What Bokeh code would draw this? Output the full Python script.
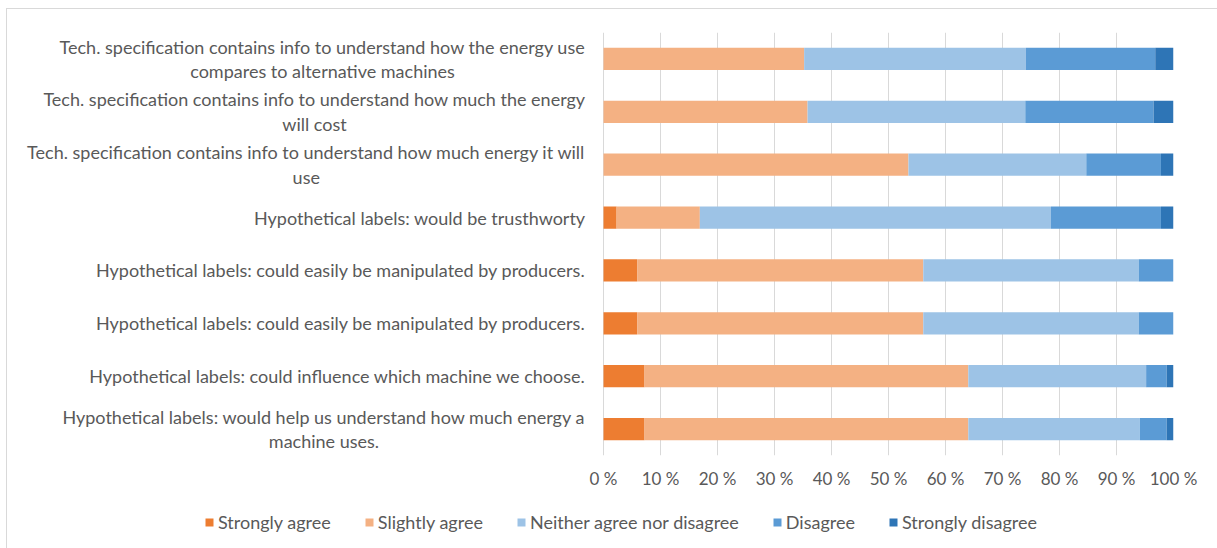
from bokeh.plotting import figure
from bokeh.layouts import column
from bokeh.models import Range1d, FixedTicker, ColumnDataSource, Legend, LegendItem
from bokeh.core.properties import value
from bokeh.embed import file_html
from bokeh.resources import INLINE

categories = [
    "Tech. specification contains info to understand how the energy use\ncompares to alternative machines",
    "Tech. specification contains info to understand how much the energy\nwill cost",
    "Tech. specification contains info to understand how much energy it will\nuse",
    "Hypothetical labels: would be trusthworty",
    "Hypothetical labels: could easily be manipulated by producers.",
    "Hypothetical labels: could easily be manipulated by producers.",
    "Hypothetical labels: could influence which machine we choose.",
    "Hypothetical labels: would help us understand how much energy a\nmachine uses.",
]
series_names = ["Strongly agree", "Slightly agree", "Neither agree nor disagree",
                "Disagree", "Strongly disagree"]
strongly_agree = [0, 0, 0, 2.3, 5.9, 5.9, 7.2, 7.2]
slightly_agree = [35.2, 35.8, 53.5, 14.6, 50.2, 50.2, 56.8, 56.8]
neither = [38.9, 38.2, 31.2, 61.6, 37.8, 37.8, 31.2, 30.1]
disagree = [22.7, 22.5, 13.1, 19.3, 6.1, 6.1, 3.6, 4.7]
strongly_disagree = [3.2, 3.5, 2.2, 2.2, 0, 0, 1.2, 1.2]
tick_values = [0, 10, 20, 30, 40, 50, 60, 70, 80, 90, 100]
tick_labels = ["0 %", "10 %", "20 %", "30 %", "40 %", "50 %", "60 %", "70 %", "80 %", "90 %", "100 %"]

colors = ["#ED7D31", "#F4B183", "#9DC3E6", "#5B9BD5", "#2E75B6"]
TEXT = "#595959"
FONT = "Lato"

ypos = list(range(len(categories)))
source = ColumnDataSource(data={
    "y": ypos,
    "label": categories,
    series_names[0]: strongly_agree,
    series_names[1]: slightly_agree,
    series_names[2]: neither,
    series_names[3]: disagree,
    series_names[4]: strongly_disagree,
})

# ---- main chart ----
p = figure(width=1210, height=486, output_backend="svg", toolbar_location=None,
           x_range=Range1d(-104.39, 100), y_range=Range1d(len(categories) - 0.5, -0.5),
           y_axis_location=None, min_border_left=1, min_border_right=44,
           min_border_top=23, min_border_bottom=40)
p.outline_line_color = None

p.hbar_stack(series_names, y="y", height=0.42, source=source, color=colors,
             line_color=None)

p.text(x=0, y="y", text="label", source=source, x_offset=-18,
       anchor=value("center_right"), text_align="center", text_baseline="middle",
       text_font=value(FONT), text_font_size="18px", text_color=TEXT,
       text_line_height=1.12)

ax = p.xaxis[0]
ax.ticker = FixedTicker(ticks=tick_values)
ax.major_label_overrides = dict(zip(tick_values, tick_labels))
ax.axis_line_color = None
ax.major_tick_line_color = None
ax.major_tick_out = 0
ax.major_tick_in = 0
ax.minor_tick_line_color = None
ax.major_label_standoff = 12
ax.major_label_text_font = FONT
ax.major_label_text_font_size = "17px"
ax.major_label_text_color = TEXT

p.xgrid.ticker = FixedTicker(ticks=tick_values)
p.xgrid.grid_line_color = "#d9d9d9"
p.ygrid.grid_line_color = None

# ---- legend strip (same stacks, kept outside its visible range) ----
p2 = figure(width=1210, height=53, output_backend="svg", toolbar_location=None,
            x_range=Range1d(0, 1), y_range=Range1d(100, 101),
            x_axis_location=None, y_axis_location=None,
            min_border_left=0, min_border_right=0, min_border_top=0, min_border_bottom=0)
p2.outline_line_color = None
p2.grid.visible = False

swatches = p2.hbar_stack(series_names, y="y", height=0.42, source=source, color=colors,
                         line_color=None)

lg = Legend(items=[LegendItem(label=n, renderers=[r]) for n, r in zip(series_names, swatches)])
lg.location = (196, 15)
lg.orientation = "horizontal"
lg.glyph_width = 10
lg.glyph_height = 10
lg.label_height = 20
lg.label_standoff = 4
lg.spacing = 33
lg.padding = 0
lg.margin = 0
lg.border_line_color = None
lg.background_fill_alpha = 0
lg.label_text_font = FONT
lg.label_text_font_size = "18px"
lg.label_text_color = TEXT
p2.add_layout(lg)

layout = column(p, p2, spacing=0)
layout.styles = {"margin-left": "6px", "margin-top": "8px",
                 "border-top": "1px solid #d9d9d9", "border-left": "1px solid #d9d9d9"}
open("out.html", "w").write(file_html(layout, INLINE))
